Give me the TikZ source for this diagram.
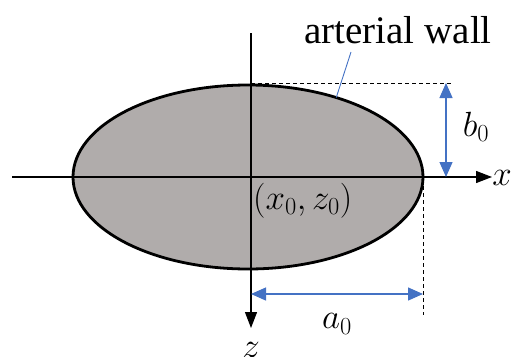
\RequirePackage{fix-cm}
\documentclass[tikz,border=0pt]{standalone}
\usepackage{fontspec}
\setmainfont{Liberation Serif}
\usetikzlibrary{arrows.meta,shapes.geometric}
\definecolor{wallgray}{RGB}{176,172,171}
\definecolor{dimblue}{RGB}{68,114,196}
\begin{document}
\begin{tikzpicture}[x=1pt,y=-1pt,
  axis/.style={line width=1.3pt},
  axisarrow/.style={axis,-{Triangle[length=16pt,width=12pt]}},
  dimline/.style={dimblue,line width=1.3pt,{Triangle[length=15pt,width=13pt]}-{Triangle[length=15pt,width=13pt]}},
  guide/.style={dashed,line width=0.9pt,dash pattern=on 4pt off 3pt},
  mathlbl/.style={font=\fontsize{35}{37}\selectfont,inner sep=0pt}]
\useasboundingbox (0,0) rectangle (511,356);
% ellipse
\node[ellipse,draw,line width=2.8pt,fill=wallgray,minimum width=350pt,minimum height=184pt,inner sep=0pt,outer sep=0pt] (ell) at (248,177) {};
% axes
\coordinate (xl) at (12,177);
\coordinate (xr) at (492,177);
\coordinate (zt) at (251,33);
\coordinate (zb) at (251,328);
\draw[axis] (xl) -- (ell.west);
\draw[axis] (ell.west) -- (ell.east);
\draw[axisarrow] (ell.east) -- (xr);
\draw[axis] (zt) -- (251,177);
\draw[axisarrow] (251,177) -- (zb);
% guides
\coordinate (topL) at (251,83);
\coordinate (topR) at (452,83);
\coordinate (vB) at (423,315);
\draw[guide] (topL) -- (topR);
\draw[guide] (423,186) -- (vB);
% dimension arrows
\coordinate (bT) at (446,83);
\coordinate (bB) at (446,177);
\draw[dimline] (bT) -- (bB);
\coordinate (aL) at (251,294);
\coordinate (aR) at (423,294);
\draw[dimline] (aL) -- (aR);
% labels
\node[mathlbl] (b0) at (476,127) {$b_0$};
\node[mathlbl] (a0) at (337,324) {$a_0$};
\node[mathlbl] (xlab) at (502,178) {$x$};
\node[mathlbl,anchor=north] (zlab) at (251,342) {$z$};
\node[mathlbl,anchor=north west] (c0) at (253,183) {$(x_0,z_0)$};
\node[font=\fontsize{39}{40}\selectfont,inner sep=0pt] (wall) at (398,30) {arterial wall};
\coordinate (ptr) at (351,52);
\draw[dimblue,line width=0.9pt] (ptr) -- (ell.42);
\end{tikzpicture}
\end{document}
